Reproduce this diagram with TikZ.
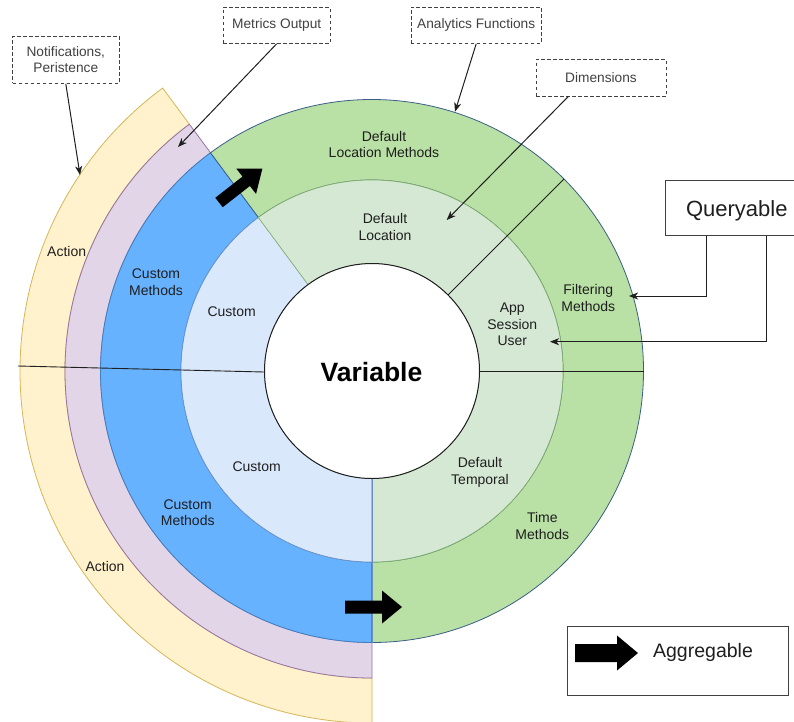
\documentclass[tikz,border=0pt]{standalone}
\usepackage{fontspec}
\setmainfont{Liberation Sans}
\usetikzlibrary{arrows.meta,calc}
\definecolor{ink}{HTML}{1F1F1F}
\definecolor{actionfill}{HTML}{FFF2CC}
\definecolor{actionline}{HTML}{D6B656}
\definecolor{outputfill}{HTML}{E1D5E7}
\definecolor{outputline}{HTML}{9673A6}
\definecolor{custfill}{HTML}{66B2FF}
\definecolor{custline}{HTML}{3F7FBF}
\definecolor{custinfill}{HTML}{DAE8FC}
\definecolor{custinline}{HTML}{6C8EBF}
\definecolor{deffill}{HTML}{B9E0A5}
\definecolor{defline}{HTML}{3B5E86}
\definecolor{definfill}{HTML}{D5E8D4}
\definecolor{definline}{HTML}{82B366}

% annular sector: start angle, end angle, inner radius, outer radius, style
\newcommand\ringsector[5]{%
  \path[#5] (#1:#3) arc[start angle=#1, end angle=#2, radius=#3]
    -- (#2:#4) arc[start angle=#2, end angle=#1, radius=#4] -- cycle;}

\begin{document}
\begin{tikzpicture}[x=1pt, y=-1pt,
  lbl/.style={font=\fontsize{14}{16.7}\selectfont, text=ink, align=center, inner sep=0pt},
  notebox/.style={draw=ink!85, line width=0.9pt, dash pattern=on 3.5pt off 2.5pt,
    fill=white, inner sep=0pt, font=\fontsize{13.7}{16.6}\selectfont, text=ink!85, align=center},
  solidbox/.style={draw=ink!85, line width=1pt, fill=white, inner sep=0pt},
  conn/.style={draw=ink, line width=1pt, -{Stealth[length=9pt,width=7pt,inset=2.5pt]}},
  divider/.style={draw=ink, line width=0.9pt},
  pics/blockarrow/.style args={#1/#2/#3/#4}{code={
    \fill[black] (0,-#2) -- (#1-#4,-#2) -- (#1-#4,-#3) -- (#1,0)
      -- (#1-#4,#3) -- (#1-#4,#2) -- (0,#2) -- cycle;}}]

\useasboundingbox (0,0) rectangle (794,721);
\clip (0,0) rectangle (794,721);

% concentric rings around the variable
\begin{scope}[xshift=372pt, yshift=-371pt, y=1pt]
  \ringsector{126.5}{270}{307}{352}{fill=actionfill, draw=actionline, line width=0.8pt}
  \ringsector{126.5}{270}{271.5}{307}{fill=outputfill, draw=outputline, line width=0.8pt}
  \ringsector{126.5}{270}{191}{271.5}{fill=custfill, draw=custline, line width=0.8pt}
  \ringsector{-90}{126.5}{191}{271.5}{fill=deffill, draw=defline, line width=0.8pt}
  \ringsector{126.5}{270}{107.5}{191}{fill=custinfill, draw=custinline, line width=0.6pt}
  \ringsector{-90}{126.5}{107.5}{191}{fill=definfill, draw=definline, line width=0.6pt}
  \draw[fill=white, draw=ink, line width=1pt] (0,0) circle[radius=107.5];
  \draw[divider] (45:107.5) -- (45:271.5);
  \draw[divider] (0:107.5) -- (0:271.5);
  \draw[custinline, line width=0.8pt] (270:107.5) -- (270:271.5);
\end{scope}
\draw[divider] (18,366) -- (264,372);

% aggregation arrows
\pic[rotate=38] at (219,202.5) {blockarrow=55/6/16/20.5};
\pic at (345,607) {blockarrow=57/6.5/16.5/20};

% centre
\node[font=\fontsize{26.5}{30}\selectfont\bfseries, text=black, inner sep=0pt] (var) at (371.5,372) {Variable};

% ring labels
\node[lbl] (dlm) at (384,144.5) {Default\\Location Methods};
\node[lbl] (dl) at (385,227) {Default\\Location};
\node[lbl] (cm1) at (156,282) {Custom\\Methods};
\node[lbl] (c1) at (231.7,312) {Custom};
\node[lbl] (act1) at (66.7,251) {Action};
\node[lbl] (asu) at (512.3,324.3) {App\\Session\\User};
\node[lbl] (fm) at (588.3,298) {Filtering\\Methods};
\node[lbl] (c2) at (256.7,466.7) {Custom};
\node[lbl] (cm2) at (187.7,512.7) {Custom\\Methods};
\node[lbl] (act2) at (105,566.7) {Action};
\node[lbl] (dt) at (480,472.5) {Default\\Temporal};
\node[lbl] (tm) at (542.3,526.3) {Time\\Methods};

% annotations
\node[notebox, minimum width=106.3pt, minimum height=47.3pt] (notif) at (65.8,59.7) {Notifications,\\Peristence};
\node[notebox, minimum width=106.7pt, minimum height=36pt] (metrics) at (276.7,25.3) {Metrics Output};
\node[notebox, minimum width=130.5pt, minimum height=36pt] (analytics) at (476.2,25.3) {Analytics Functions};
\node[notebox, minimum width=130pt, minimum height=36.7pt] (dims) at (601,77.7) {Dimensions};
\node[solidbox, minimum width=142pt, minimum height=55.3pt, text depth=0pt,
  font=\fontsize{22}{26}\selectfont, text=ink] (query) at (736.8,208.3) {Queryable};

% legend
\node[solidbox, minimum width=221.3pt, minimum height=69.3pt] (legend) at (678.3,661.3) {};
\pic at (575,653) {blockarrow=63/9/17.5/21};
\node[font=\fontsize{19.5}{23}\selectfont, text=ink, inner sep=0pt, anchor=base] (aggr) at (703,657.7) {Aggregable};

% connectors
\coordinate (tNotif) at (80,175);
\coordinate (tMetrics) at (178,147);
\coordinate (tAnalytics) at (455,111.7);
\coordinate (tDims) at (446.7,220);
\coordinate (tFilter) at (629,296);
\coordinate (tUser) at (550,341.7);
\draw[conn] (notif.south) -- (tNotif);
\draw[conn] (metrics.south) -- (tMetrics);
\draw[conn] (analytics.south) -- (tAnalytics);
\draw[conn] ($(dims.south)+(-32.7,0)$) -- (tDims);
\draw[conn] ($(query.south)+(-30,0)$) |- (tFilter);
\draw[conn] ($(query.south)+(30,0)$) |- (tUser);
\end{tikzpicture}
\end{document}
